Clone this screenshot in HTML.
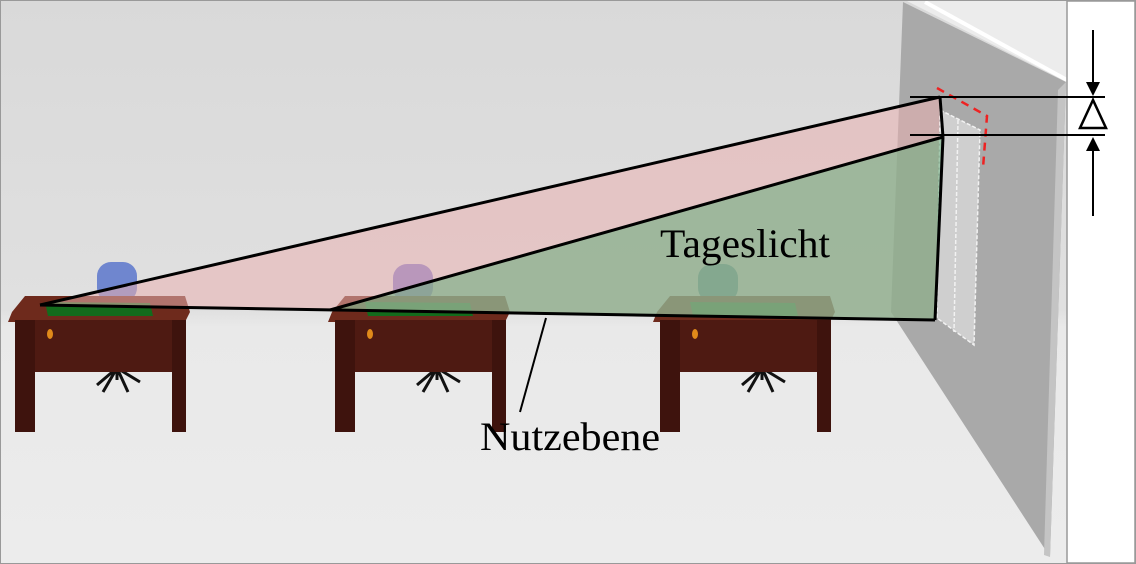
<!DOCTYPE html>
<html><head><meta charset="utf-8"><style>
html,body{margin:0;padding:0;background:#fff}
svg{display:block}
text{font-family:"Liberation Serif",serif}
</style></head><body>
<svg width="1136" height="564" viewBox="0 0 1136 564" xmlns="http://www.w3.org/2000/svg">
<defs>
<linearGradient id="bg" x1="0" y1="0" x2="0" y2="1">
<stop offset="0" stop-color="#d9d9d9"/><stop offset="0.55" stop-color="#e0e0e0"/><stop offset="0.58" stop-color="#e9e9e9"/><stop offset="1" stop-color="#ececec"/>
</linearGradient>
<g id="desk">
<g stroke="#111" stroke-width="3" fill="none"><path d="M117,368 L97,385 M117,368 L103,392 M117,368 L128,392 M117,368 L140,382 M117,368 L117,380"/></g>
<polygon points="25,296 185,296 190,312 185,322 8,322 12,312" fill="#6e2a1c"/>
<rect x="15" y="320" width="170" height="52" fill="#4e1a12"/>
<rect x="15" y="320" width="20" height="112" fill="#3e130d"/>
<rect x="172" y="320" width="14" height="112" fill="#3e130d"/>
<polygon points="45,302 150,303 153,316 48,316" fill="#136b1c"/>
<ellipse cx="50" cy="334" rx="3" ry="5" fill="#e08a1a"/>
</g>
</defs>
<rect x="0" y="0" width="1136" height="564" fill="url(#bg)"/>
<polygon points="903,0 1067,0 1067,82 905,0" fill="#ececec"/>
<line x1="925" y1="2" x2="1067" y2="80" stroke="#fff" stroke-width="4"/>
<polygon points="903,2 1066,82 1050,557 891,312" fill="#a9a9a9"/>
<polygon points="1058,90 1066,82 1050,557 1044,555" fill="#c4c4c4"/>
<g fill="#cfcfcf" stroke="#f2f2f2" stroke-width="1.5" stroke-dasharray="4,2">
<polygon points="940,110 980,130 974,345 937,318"/>
<line x1="958" y1="120" x2="954" y2="332"/>
</g>
<rect x="1067" y="1" width="68" height="562" fill="#fff" stroke="#999" stroke-width="1.5"/>
<rect x="0.5" y="0.5" width="1135" height="563" fill="none" stroke="#999"/>
<!-- chairs -->
<rect x="97" y="262" width="40" height="40" rx="14" fill="#6f86cf"/>
<rect x="393" y="264" width="40" height="38" rx="14" fill="#7f78c8"/>
<rect x="698" y="264" width="40" height="38" rx="14" fill="#4f8e98"/>
<use href="#desk" x="0" y="0"/>
<use href="#desk" x="320" y="0"/>
<use href="#desk" x="645" y="0"/>
<polygon points="40,305 940,97 935,320" fill="#eab0b0" fill-opacity="0.55"/>
<polygon points="330,310 943,137 935,320" fill="#6fae80" fill-opacity="0.6"/>
<g stroke="#000" stroke-width="3" fill="none" stroke-linejoin="round">
<line x1="40" y1="305" x2="940" y2="97"/>
<line x1="330" y1="310" x2="943" y2="137"/>
<line x1="940" y1="97" x2="943" y2="137"/>
<line x1="943" y1="137" x2="935" y2="320"/>
<line x1="40" y1="305" x2="935" y2="320"/>
</g>
<polyline points="937,88 987,116 983,168" fill="none" stroke="#e22" stroke-width="2.5" stroke-dasharray="8,6"/>
<g stroke="#000" stroke-width="2">
<line x1="910" y1="97" x2="1105" y2="97"/>
<line x1="910" y1="135" x2="1105" y2="135"/>
<line x1="1093" y1="30" x2="1093" y2="85"/>
<line x1="1093" y1="148" x2="1093" y2="216"/>
</g>
<polygon points="1086,82 1100,82 1093,96" fill="#000"/>
<polygon points="1086,151 1100,151 1093,137" fill="#000"/>
<polygon points="1093,100 1080,128 1106,128" fill="#fff" stroke="#000" stroke-width="2.5"/>
<text x="660" y="257" font-size="40" textLength="170" lengthAdjust="spacingAndGlyphs">Tageslicht</text>
<line x1="546" y1="318" x2="520" y2="412" stroke="#000" stroke-width="2"/>
<text x="480" y="450" font-size="40" textLength="180" lengthAdjust="spacingAndGlyphs">Nutzebene</text>
</svg>
</body></html>
